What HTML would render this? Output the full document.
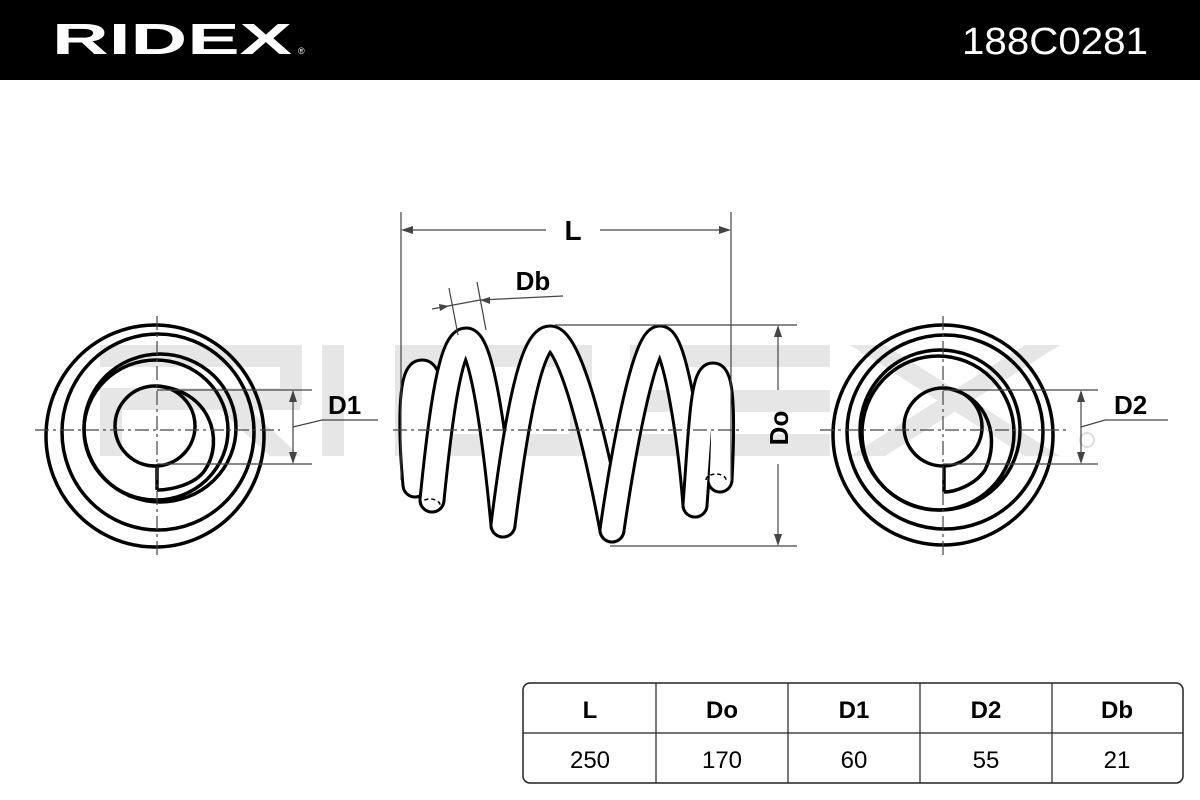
<!DOCTYPE html>
<html><head><meta charset="utf-8"><style>
html,body{margin:0;padding:0;background:#fff}
svg{display:block}
</style></head><body>
<svg width="1200" height="800" viewBox="0 0 1200 800" xmlns="http://www.w3.org/2000/svg" font-family="Liberation Sans, sans-serif">
<rect x="0" y="0" width="1200" height="80" fill="#000"/>
<text x="52" y="54" fill="#fff" font-size="44" font-weight="bold" textLength="240" lengthAdjust="spacingAndGlyphs">RIDEX</text>
<text x="298" y="54" fill="#fff" font-size="9">®</text>
<text x="962" y="54" fill="#fff" font-size="38" textLength="186" lengthAdjust="spacingAndGlyphs">188C0281</text>

<!-- watermark -->
<g fill="#e6e6e6">
<rect x="100" y="345" width="200" height="22"/>
<rect x="100" y="388" width="200" height="22"/>
<rect x="100" y="388" width="22" height="68"/>
<rect x="280" y="345" width="22" height="60"/>
<polygon points="220,410 250,410 300,456 270,456"/>
<rect x="322" y="345" width="22" height="111"/>
<rect x="395" y="345" width="195" height="22"/>
<rect x="395" y="434" width="195" height="22"/>
<rect x="395" y="345" width="22" height="111"/>
<rect x="570" y="345" width="22" height="111"/>
<rect x="630" y="345" width="200" height="22"/>
<rect x="630" y="390" width="200" height="22"/>
<rect x="630" y="434" width="200" height="22"/>
<polygon points="850,345 885,345 1060,456 1025,456"/>
<polygon points="1025,345 1060,345 885,456 850,456"/>
</g>
<circle cx="1087" cy="440" r="7" fill="none" stroke="#ddd" stroke-width="2"/>

<!-- left end view -->
<g fill="none" stroke="#000" stroke-width="3.5">
<ellipse cx="155" cy="436" rx="109" ry="111"/>
<ellipse cx="158" cy="432" rx="96" ry="98"/>
<ellipse cx="160" cy="428" rx="76" ry="74"/>
<ellipse cx="156" cy="430" rx="72" ry="70"/>
<circle cx="155" cy="426" r="40"/>
<path d="M157,386 C210,390 225,440 205,470 C195,485 170,490 157,490"/>
<line x1="157" y1="466" x2="157" y2="490"/>
</g>
<g stroke="#444" stroke-width="1.2" fill="none">
<line x1="157" y1="316" x2="157" y2="556" stroke-dasharray="14,4,3,4"/>
<line x1="35" y1="430" x2="280" y2="430" stroke-dasharray="14,4,3,4"/>
<line x1="157" y1="390" x2="312" y2="390"/>
<line x1="157" y1="464" x2="312" y2="464"/>
<line x1="293" y1="392" x2="293" y2="462"/>
<polyline points="293,427 322,420 378,420"/>
</g>
<polygon points="293,390 289,402 297,402" fill="#444"/>
<polygon points="293,464 289,452 297,452" fill="#444"/>
<text x="328" y="414" font-size="26" font-weight="bold">D1</text>

<!-- right end view -->
<g fill="none" stroke="#000" stroke-width="3.5">
<ellipse cx="943" cy="435" rx="110" ry="110"/>
<ellipse cx="945" cy="432" rx="98" ry="97"/>
<ellipse cx="940" cy="430" rx="80" ry="80"/>
<ellipse cx="938" cy="433" rx="76" ry="77"/>
<circle cx="943" cy="427" r="39"/>
<path d="M945,388 C990,395 1000,440 985,470 C975,485 955,492 944,492"/>
<line x1="944" y1="466" x2="944" y2="492"/>
</g>
<g stroke="#444" stroke-width="1.2" fill="none">
<line x1="943" y1="316" x2="943" y2="556" stroke-dasharray="14,4,3,4"/>
<line x1="820" y1="430" x2="1066" y2="430" stroke-dasharray="14,4,3,4"/>
<line x1="943" y1="390" x2="1098" y2="390"/>
<line x1="943" y1="464" x2="1098" y2="464"/>
<line x1="1081" y1="392" x2="1081" y2="462"/>
<polyline points="1081,427 1105,420 1168,420"/>
</g>
<polygon points="1081,390 1077,402 1085,402" fill="#444"/>
<polygon points="1081,464 1077,452 1085,452" fill="#444"/>
<text x="1114" y="414" font-size="26" font-weight="bold">D2</text>

<!-- spring -->
<g fill="none" stroke-linecap="round" stroke-linejoin="round">
<g stroke="#000" stroke-width="27">
<path d="M415,485 C410,430 410,372 422,372 C435,372 432,440 432,500"/>
</g><g stroke="#fff" stroke-width="21">
<path d="M415,485 C410,430 410,372 422,372 C435,372 432,440 432,500"/>
</g>
<g stroke="#000" stroke-width="27"><path d="M432,500 C440,420 450,340 466,340 C482,340 495,440 503,525"/></g>
<g stroke="#fff" stroke-width="21"><path d="M432,500 C440,420 450,340 466,340 C482,340 495,440 503,525"/></g>
<g stroke="#000" stroke-width="27"><path d="M503,525 C515,430 530,338 550,338 C570,338 595,440 612,530"/></g>
<g stroke="#fff" stroke-width="21"><path d="M503,525 C515,430 530,338 550,338 C570,338 595,440 612,530"/></g>
<g stroke="#000" stroke-width="27"><path d="M612,530 C625,440 645,338 660,338 C675,338 690,440 695,505"/></g>
<g stroke="#fff" stroke-width="21"><path d="M612,530 C625,440 645,338 660,338 C675,338 690,440 695,505"/></g>
<g stroke="#000" stroke-width="27"><path d="M695,505 C700,440 702,375 713,375 C724,375 722,440 720,480"/></g>
<g stroke="#fff" stroke-width="21"><path d="M695,505 C700,440 702,375 713,375 C724,375 722,440 720,480"/></g>
</g>
<g fill="none" stroke="#000" stroke-width="1.5" stroke-dasharray="4,3">
<path d="M420,505 a10,6 0 0 1 20,0"/>
<path d="M706,480 a10,6 0 0 1 20,0"/>
</g>

<!-- L dim -->
<g stroke="#444" stroke-width="1.2" fill="none">
<line x1="401" y1="212" x2="401" y2="480"/>
<line x1="731" y1="212" x2="731" y2="480"/>
<line x1="403" y1="230" x2="546" y2="230"/>
<line x1="600" y1="230" x2="729" y2="230"/>
<line x1="555" y1="325" x2="797" y2="325"/>
<line x1="610" y1="546" x2="797" y2="546"/>
<line x1="778" y1="327" x2="778" y2="390"/>
<line x1="778" y1="464" x2="778" y2="544"/>
<line x1="449" y1="288" x2="458" y2="335"/>
<line x1="477" y1="282" x2="486" y2="330"/>
<polyline points="432,309 480,300 563,296"/>
<line x1="393" y1="430" x2="742" y2="430" stroke-dasharray="14,4,3,4"/>
</g>
<polygon points="401,230 413,226 413,234" fill="#444"/>
<polygon points="731,230 719,226 719,234" fill="#444"/>
<polygon points="778,325 774,337 782,337" fill="#444"/>
<polygon points="778,546 774,534 782,534" fill="#444"/>
<polygon points="449,306 439,304 440,311" fill="#444"/>
<polygon points="480,300 490,297 490,304" fill="#444"/>
<text x="573" y="240" font-size="28" font-weight="bold" text-anchor="middle">L</text>
<text x="533" y="290" font-size="26" font-weight="bold" text-anchor="middle">Db</text>
<text transform="translate(788,428) rotate(-90)" font-size="26" font-weight="bold" text-anchor="middle">Do</text>

<!-- table -->
<rect x="523" y="683" width="660" height="100" rx="7" fill="none" stroke="#222" stroke-width="1.5"/>
<g stroke="#222" stroke-width="1.2">
<line x1="523" y1="733" x2="1183" y2="733"/>
<line x1="656" y1="683" x2="656" y2="783"/>
<line x1="788" y1="683" x2="788" y2="783"/>
<line x1="920" y1="683" x2="920" y2="783"/>
<line x1="1052" y1="683" x2="1052" y2="783"/>
</g>
<g font-size="24" text-anchor="middle">
<text x="590" y="718" font-weight="bold">L</text>
<text x="722" y="718" font-weight="bold">Do</text>
<text x="854" y="718" font-weight="bold">D1</text>
<text x="986" y="718" font-weight="bold">D2</text>
<text x="1117" y="718" font-weight="bold">Db</text>
<text x="590" y="768">250</text>
<text x="722" y="768">170</text>
<text x="854" y="768">60</text>
<text x="986" y="768">55</text>
<text x="1117" y="768">21</text>
</g>
</svg>
</body></html>
